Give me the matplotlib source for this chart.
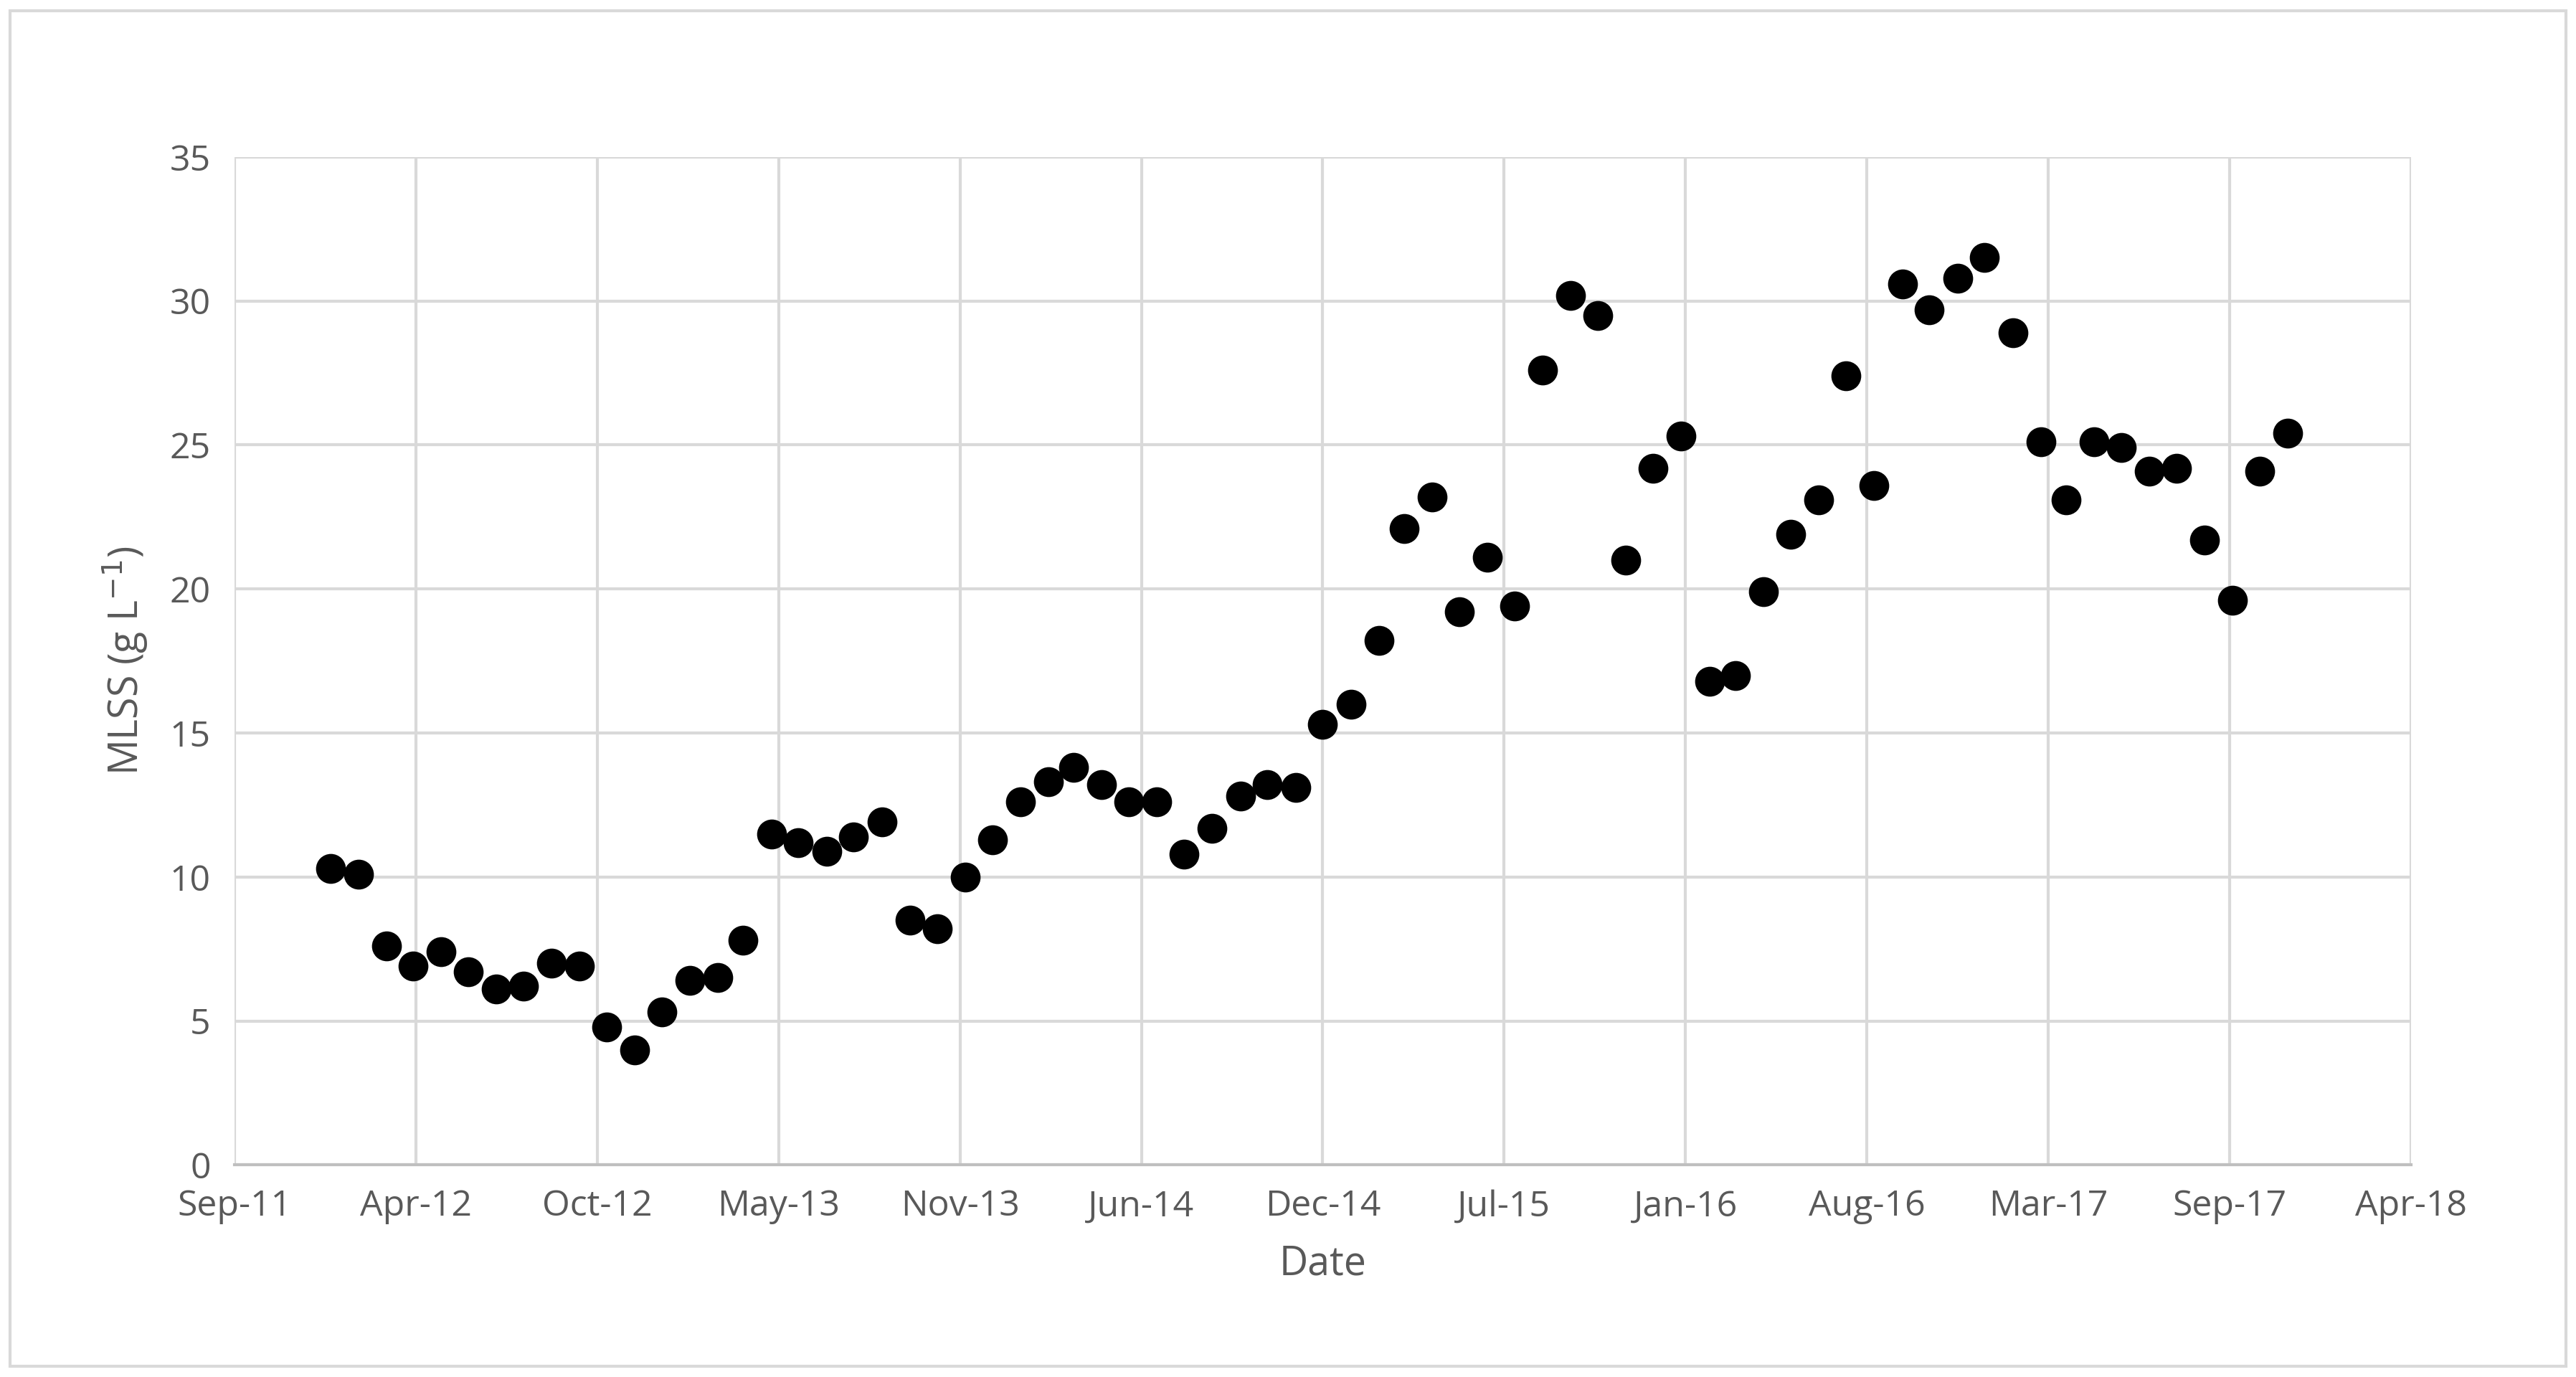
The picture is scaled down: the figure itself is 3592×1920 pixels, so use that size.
import numpy as np
import pandas as pd
import matplotlib
matplotlib.use('Agg')
import matplotlib.pyplot as plt
import matplotlib.dates as mdates

plt.rcParams['font.family'] = ['Open Sans', 'DejaVu Sans']

# MLSS mensuel (g/L)
mlss = [10.3, 10.1, 7.6, 6.9, 7.4, 6.7, 6.1, 6.2, 7.0, 6.9, 4.8, 4.0,
        5.3, 6.4, 6.5, 7.8, 11.5, 11.2, 10.9, 11.4, 11.9, 8.5, 8.2, 10.0,
        11.3, 12.6, 13.3, 13.8, 13.2, 12.6, 12.6, 10.8, 11.7, 12.8, 13.2, 13.1,
        15.3, 16.0, 18.2, 22.1, 23.2, 19.2, 21.1, 19.4, 27.6, 30.2, 29.5, 21.0,
        24.2, 25.3, 16.8, 17.0, 19.9, 21.9, 23.1, 27.4, 23.6, 30.6, 29.7, 30.8,
        31.5, 28.9, 25.1, 23.1, 25.1, 24.9, 24.1, 24.2, 21.7, 19.6, 24.1, 25.4]
dates = pd.date_range('2011-12-01', periods=len(mlss), freq='MS') + pd.Timedelta(days=15)
tick_labels = ['Sep-11', 'Apr-12', 'Oct-12', 'May-13', 'Nov-13', 'Jun-14', 'Dec-14',
               'Jul-15', 'Jan-16', 'Aug-16', 'Mar-17', 'Sep-17', 'Apr-18']

fig = plt.figure(figsize=(17.96, 9.6), dpi=200)
ax = fig.add_axes([0.091, 0.154, 0.845, 0.732])

debut = mdates.date2num(pd.Timestamp('2011-09-01'))
fin = mdates.date2num(pd.Timestamp('2018-04-01'))
ax.plot(mdates.date2num(dates), mlss, 'o', color='black', markersize=14)

ax.set_xlim(debut, fin)
ax.set_xticks(np.linspace(debut, fin, len(tick_labels)))
ax.set_xticklabels(tick_labels)
ax.set_ylim(0, 35)
ax.set_yticks(range(0, 36, 5))
ax.grid(True, color='#d9d9d9', linewidth=1.5)
ax.set_axisbelow(True)
for s in ['top', 'right', 'left']:
    ax.spines[s].set_visible(False)
ax.spines['bottom'].set_color('#bfbfbf')
ax.spines['bottom'].set_linewidth(1.5)
ax.tick_params(length=0, labelsize=18, colors='#595959', pad=12)
ax.set_xlabel('Date', fontsize=20, color='#595959', labelpad=10)
ax.set_ylabel('MLSS (g L$^{-1}$)', fontsize=20, color='#595959', labelpad=10)

fig.patches.append(plt.Rectangle((0.004, 0.008), 0.992, 0.984, transform=fig.transFigure,
                                 fill=False, edgecolor='#d9d9d9', linewidth=1.5))
fig.savefig('out.png', dpi=200)
